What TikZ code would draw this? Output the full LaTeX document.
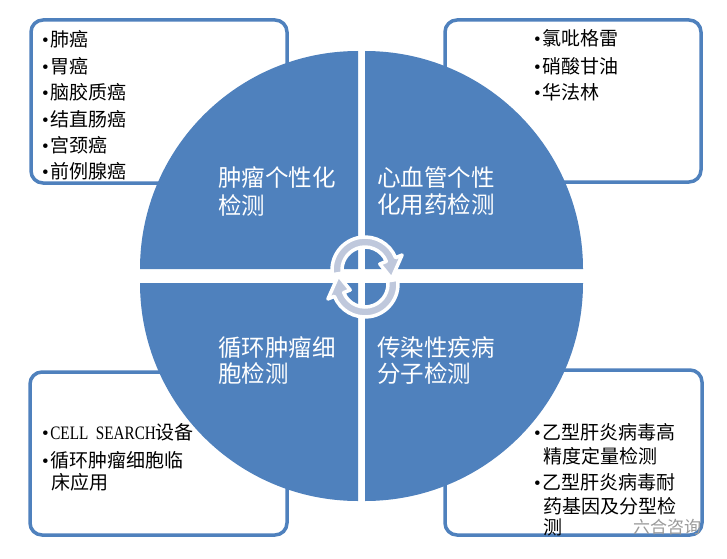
\documentclass[tikz,border=0pt]{standalone}
\usepackage{fontspec}
\usepackage{graphicx}
\setmainfont{Noto Sans CJK SC}
\newfontfamily\bulfont{Liberation Serif}
\usetikzlibrary{calc}
\definecolor{qblue}{HTML}{4F81BD}
\definecolor{arrowfill}{HTML}{BFC8DC}
\definecolor{wmgray}{HTML}{9A9A9A}
\newcommand{\bul}{{\bulfont •}\hspace{1.5pt}}
\begin{document}
\begin{tikzpicture}[x=1pt,y=1pt,
  listbox/.style={draw=qblue, line width=3.5pt, rounded corners=12pt, fill=white},
  quad/.style={fill=qblue},
  boxtext/.style={font=\fontsize{19}{19}\selectfont, anchor=west, inner sep=0pt, text=black},
  qlabel/.style={font=\fontsize{23.5}{23.5}\selectfont, anchor=west, inner sep=0pt, text=white},
  cyclearrow/.style={fill=arrowfill, draw=white, line width=3.5pt, line join=round},
  watermark/.style={font=\fontsize{17}{17}\selectfont, anchor=west, inner sep=0pt, text=wmgray}]
\useasboundingbox (0,0) rectangle (727,558);
\fill[white] (0,0) rectangle (727,558);

% list boxes
\draw[listbox] (31,375) rectangle (287,538);
\draw[listbox] (445,376) rectangle (701,538);
\draw[listbox] (30,23) rectangle (287,186);
\draw[listbox] (445,23) rectangle (702,188);

% circle quadrants
\fill[quad] (358,289) -- (140,289) arc[start angle=180,end angle=90,radius=218] -- cycle;
\fill[quad] (365,289) -- (583,289) arc[start angle=0,end angle=90,radius=218] -- cycle;
\fill[quad] (358,275) -- (140,275) arc[start angle=180,end angle=270,radius=218] -- cycle;
\fill[quad] (365,275) -- (583,275) arc[start angle=0,end angle=-90,radius=218] -- cycle;

% cycle arrows
\coordinate (c1) at (365,288);
\coordinate (c2) at (365,274);
\draw[cyclearrow] ($(c1)+(188:33)$) arc[start angle=188,end angle=22,radius=33]
  -- ($(c1)+(22:40)$) -- ($(c1)+(-18:28)$) -- ($(c1)+(22:16)$) -- ($(c1)+(22:23)$)
  arc[start angle=22,end angle=188,radius=23] -- cycle;
\draw[cyclearrow] ($(c2)+(8:33)$) arc[start angle=8,end angle=-158,radius=33]
  -- ($(c2)+(-158:40)$) -- ($(c2)+(162:28)$) -- ($(c2)+(-158:16)$) -- ($(c2)+(-158:23)$)
  arc[start angle=-158,end angle=8,radius=23] -- cycle;

% quadrant labels
\node[qlabel] (q1a) at (218,380) {肿瘤个性化};
\node[qlabel] (q1b) at (218,353) {检测};
\node[qlabel] (q2a) at (377,380) {心血管个性};
\node[qlabel] (q2b) at (377,353) {化用药检测};
\node[qlabel] (q3a) at (218,210.5) {循环肿瘤细};
\node[qlabel] (q3b) at (218,184) {胞检测};
\node[qlabel] (q4a) at (377,210.5) {传染性疾病};
\node[qlabel] (q4b) at (377,184) {分子检测};

% top-left list
\node[boxtext] (tl1) at (42,519) {\bul 肺癌};
\node[boxtext] (tl2) at (42,492) {\bul 胃癌};
\node[boxtext] (tl3) at (42,465.5) {\bul 脑胶质癌};
\node[boxtext] (tl4) at (42,439) {\bul 结直肠癌};
\node[boxtext] (tl5) at (42,412.5) {\bul 宫颈癌};
\node[boxtext] (tl6) at (42,387) {\bul 前例腺癌};

% top-right list
\node[boxtext] (tr1) at (534,520) {\bul 氯吡格雷};
\node[boxtext] (tr2) at (534,492) {\bul 硝酸甘油};
\node[boxtext] (tr3) at (534,465.5) {\bul 华法林};

% bottom-left list
\node[boxtext] (bl1) at (42,125.5) {\bul \scalebox{0.8}[1]{\bulfont CELL\ \ SEARCH}设备};
\node[boxtext] (bl2) at (42,97.5) {\bul 循环肿瘤细胞临};
\node[boxtext] (bl3) at (51,75.5) {床应用};

% bottom-right list
\node[boxtext] (br1) at (534,125.5) {\bul 乙型肝炎病毒高};
\node[boxtext] (br2) at (543,102) {精度定量检测};
\node[boxtext] (br3) at (534,75.5) {\bul 乙型肝炎病毒耐};
\node[boxtext] (br4) at (543,52) {药基因及分型检};
\node[boxtext] (br5) at (543,30.5) {测};

% watermark
\node[watermark] (wm) at (633,31) {六合咨询};
\end{tikzpicture}
\end{document}
